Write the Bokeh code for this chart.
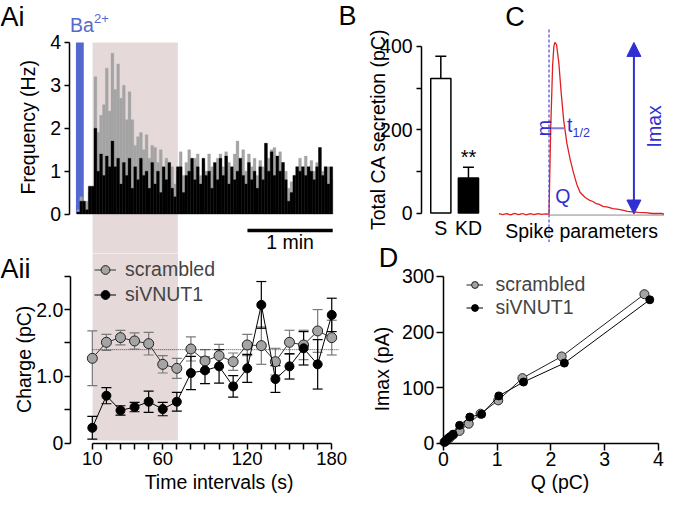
import numpy as np
from bokeh.plotting import figure
from bokeh.models import (Range1d, LinearAxis, FixedTicker, Legend, LegendItem,
                          Whisker, TeeHead, Arrow, NormalHead, ColumnDataSource)
from bokeh.core.properties import value
from bokeh.layouts import row, column
from bokeh.embed import file_html
from bokeh.resources import INLINE

# ---------------------------------------------------------------- data
# Panel Ai: spike-frequency histogram (2-s bins, Hz)
hist_bin_s = 2.0
freq_scrambled = [0.1, 0.4, 0.3, 0.3, 0.5, 0.6, 3.2, 1.9, 2.3, 2.55, 3.4, 2.4, 3.75, 2.9, 3.5, 2.7,
                  3.0, 2.2, 2.85, 2.2, 1.6, 1.8, 1.9, 1.5, 1.85, 1.3, 1.6, 1.55, 1.2, 1.5, 1.0, 1.3,
                  0.9, 1.1, 0.7, 1.0,
                  1.45, 0.9, 1.2, 1.5, 1.0, 1.3, 1.4, 0.9, 1.2, 1.0, 1.4, 1.1, 0.9, 1.3, 1.4, 1.1,
                  1.45, 1.2, 0.9, 1.4, 1.7, 1.2, 1.5, 1.0, 1.4, 1.1, 1.3, 0.9, 1.25, 1.1, 1.65, 1.3,
                  1.5, 1.55, 1.35, 1.45, 1.2, 1.0, 0.6, 0.75, 0.9, 1.1, 1.3, 1.1, 1.35, 1.1, 1.25,
                  1.0, 1.2, 1.55, 1.0, 1.1, 1.1, 0.8]
freq_sivnut1 = [0.05, 0.3, 0.3, 0.1, 0.65, 0.65, 2.0, 1.0, 1.4, 0.9, 1.35, 1.1, 1.7, 1.1, 1.3, 0.7,
                1.2, 0.9, 1.3, 0.6, 1.1, 0.8, 1.3, 0.9, 1.0, 0.6, 1.2, 0.7, 1.0, 0.5, 1.1, 0.8,
                1.2, 0.6, 0.4, 1.1,
                1.1, 0.5, 0.9, 1.0, 1.3, 0.8, 1.1, 0.7, 1.3, 0.9, 1.0, 0.6, 1.2, 0.8, 1.3, 0.9,
                1.35, 0.7, 1.1, 0.8, 1.0, 1.3, 0.9, 0.7, 1.2, 0.8, 1.0, 0.6, 1.1, 0.8, 1.65, 1.0,
                1.45, 0.9, 1.35, 1.0, 1.2, 0.8, 0.3, 0.5, 0.9, 1.1, 1.0, 1.1, 0.9, 1.1, 1.0, 0.8,
                1.1, 1.55, 0.9, 1.1, 0.7, 1.1]
ba_pulse_s = [-0.7, 4.8]
stim_window_s = [11.0, 71.0]
scale_bar_s = 60
freq_ticks = [0, 1, 2, 3, 4]

# Panel Aii: charge per spike over time intervals
interval_s = [10, 20, 30, 40, 50, 60, 70, 80, 90, 100, 110, 120, 130, 140, 150, 160, 170, 180]
charge_scr = [1.27, 1.51, 1.58, 1.53, 1.49, 1.18, 1.12, 1.41, 1.23, 1.31, 1.22, 1.47, 1.46, 1.22,
              1.51, 1.47, 1.68, 1.58]
charge_scr_sem = [0.41, 0.12, 0.11, 0.12, 0.17, 0.13, 0.15, 0.18, 0.17, 0.17, 0.13, 0.16, 0.28,
                  0.20, 0.18, 0.22, 0.32, 0.26]
charge_si = [0.23, 0.71, 0.49, 0.54, 0.62, 0.51, 0.62, 1.05, 1.09, 1.15, 0.85, 1.12, 2.07, 0.96,
             1.15, 1.42, 1.18, 1.92]
charge_si_sem = [0.17, 0.12, 0.07, 0.07, 0.16, 0.10, 0.14, 0.25, 0.20, 0.25, 0.16, 0.21, 0.35,
                 0.20, 0.19, 0.25, 0.37, 0.25]
charge_ref_level = 1.40
interval_labels = [10, 60, 120, 180]
charge_ticks = [0, 0.5, 1.0, 1.5, 2.0, 2.5]
charge_labels = {0: "0", 0.5: "", 1.0: "1.0", 1.5: "", 2.0: "2.0", 2.5: ""}
stim_window_intervals = [10.2, 70.8]

# Panel B: total catecholamine secretion
groups = ["S", "KD"]
total_ca = [323, 84]
total_ca_sem = [53, 26]
group_fill = ["white", "black"]
total_ticks = [0, 100, 200, 300, 400]

# Panel C: schematic amperometric spike (ms, % of Imax)
spike_t = [-6.4, -5.9, -5.4, -4.9, -4.4, -3.9, -3.4, -2.9, -2.4, -1.9, -1.4, -0.9, -0.4, 0.0, 0.21,
           0.46, 0.62, 0.75, 0.96, 1.25, 1.54, 1.88, 2.29, 2.71, 3.13, 3.54, 3.96, 4.58, 5.21, 5.6,
           6.04, 6.4, 6.88, 7.5, 8.13, 8.7, 9.38, 10.0, 10.63, 11.4, 12.29, 13.2, 14.38, 14.7]
spike_i = [0.3, -0.4, 0.2, -0.5, 0.4, -0.3, 0.3, -0.5, 0.2, -0.4, 0.3, -0.2, 0.1, 0.0, 48.6,
           86.4, 97.7, 100.0, 98.7, 88.3, 71.3, 54.3, 41.0, 31.6, 24.0, 17.4, 12.7, 9.8, 7.9, 7.3,
           6.0, 5.6, 4.5, 4.0, 3.2, 2.9, 2.3, 1.6, 1.3, 1.0, 0.8, 0.3, 0.4, -0.2]
half_width_t = [0.29, 1.96]
half_level = 50
imax_arrow_t = 10.83

# Panel D: Imax vs Q
q_scr = [0.02, 0.05, 0.08, 0.12, 0.18, 0.30, 0.47, 0.69, 1.02, 1.47, 2.20, 3.74]
imax_scr = [2, 4, 7, 10, 15, 22, 35, 53, 77, 117, 156, 268]
q_si = [0.02, 0.05, 0.09, 0.13, 0.18, 0.30, 0.49, 0.71, 1.03, 1.49, 2.25, 3.84]
imax_si = [2, 5, 9, 12, 16, 32, 47, 52, 85, 110, 144, 258]

# ---------------------------------------------------------------- style / geometry
FONT = "Liberation Sans"
FS = 19.5
LETTER = 27
GRAY = "#a4a4a4"
SHADE = "#e6d9d9"
BA_BLUE = "#5468cf"
BLUE = "#2f2fd2"
ROT = np.pi / 2
MID = 0.3465   # height of the em-box middle above the alphabetic baseline


def cx(r):
    return (r - 2.0) * 0.98


def cy(r):
    return r * 0.975


def lin(f0, f1, va, pa, vb, pb):
    k = (vb - va) / (pb - pa)
    return Range1d(va + (f0 - pa) * k, va + (f1 - pa) * k)


def px2val(rng, f0, f1, px):
    return rng.start + (px - f0) / (f1 - f0) * (rng.end - rng.start)


def make_fig(w, h, xr, yr):
    p = figure(width=w, height=h, x_range=xr, y_range=yr, x_axis_type=None, y_axis_type=None,
               output_backend="svg", toolbar_location=None, title=None,
               min_border_left=0, min_border_right=0, min_border_top=0, min_border_bottom=0)
    p.frame_align = False
    p.outline_line_color = None
    p.background_fill_color = "white"
    p.border_fill_color = "white"
    return p


def style_axis(ax, tick_out, standoff, size=FS):
    ax.axis_line_width = 1.5
    ax.axis_line_color = "black"
    ax.major_tick_line_width = 1.5
    ax.major_tick_line_color = "black"
    ax.major_tick_out = tick_out
    ax.major_tick_in = 0
    ax.minor_tick_line_color = None
    ax.major_label_text_font = FONT
    ax.major_label_text_font_size = f"{size}px"
    ax.major_label_text_color = "black"
    ax.major_label_standoff = standoff


def add_text(p, xl, yl, text, size=FS, color="black", align="left", angle=0.0):
    """xl, yl: pixel position of the text's baseline anchor inside the figure."""
    if angle == 0.0:
        yl = yl - MID * size
        baseline = "middle"
    else:
        baseline = "alphabetic"
    x = px2val(p.x_range, 0, p.width, xl)
    y = px2val(p.y_range, p.height, 0, yl)
    p.text(x=[x], y=[y], text=[text], angle=angle, text_font=value(FONT),
           text_font_size=value(f"{size}px"), text_color=color, text_align=align,
           text_baseline=baseline)


# ---------------------------------------------------------------- Ai
W, H = 360, 253
xr = lin(0, W, 0, cx(80), scale_bar_s, cx(167))
yr = lin(H, 0, 0, cy(219), 4, cy(43))
ai = make_fig(W, H, xr, yr)
ai.quad(left=[stim_window_s[0]], right=[stim_window_s[1]], bottom=[yr.start - 1], top=[4],
        fill_color=SHADE, line_color=None, level="underlay")
ai.quad(left=[ba_pulse_s[0]], right=[ba_pulse_s[1]], bottom=[0], top=[4],
        fill_color=BA_BLUE, line_color=None)
hist_t = [hist_bin_s * (i + 0.5) for i in range(len(freq_scrambled))]
ai.vbar(x=hist_t, width=hist_bin_s, top=freq_scrambled, bottom=0, fill_color=GRAY,
        line_color=GRAY, line_width=0.3)
ai.vbar(x=hist_t, width=hist_bin_s, top=freq_sivnut1, bottom=0, fill_color="black",
        line_color="black", line_width=0.3)
t_end = hist_bin_s * len(freq_scrambled)
bar_y = px2val(yr, H, 0, cy(236))
ai.line(x=[t_end - scale_bar_s, t_end], y=[bar_y, bar_y], line_color="black", line_width=3.5)
ax = LinearAxis(ticker=FixedTicker(ticks=freq_ticks), bounds=(0, 4),
                fixed_location=px2val(xr, 0, W, cx(72)))
style_axis(ax, 5, 3)
ai.add_layout(ax, "left")
add_text(ai, 0, cy(27), "Ai", size=LETTER)
add_text(ai, cx(347), cy(26), "B", size=LETTER)
add_text(ai, cx(73), cy(32), "Ba", color=BA_BLUE)
add_text(ai, cx(97.5), cy(23), "2+", size=13, color=BA_BLUE)
add_text(ai, cx(30.5), cy(130), "Frequency (Hz)", align="center", angle=ROT)
add_text(ai, cx(297.5), cy(255), "1 min", align="center")

# ---------------------------------------------------------------- Aii
W, H, OY = 360, 241, 253
xr = lin(0, W, 10, cx(95.7), 180, cx(340))
yr = lin(H, 0, 0, cy(454) - OY, 2.0, cy(317) - OY)
aii = make_fig(W, H, xr, yr)
aii.quad(left=[stim_window_intervals[0]], right=[stim_window_intervals[1]], bottom=[0.04],
         top=[yr.end + 1], fill_color=SHADE, line_color=None, level="underlay")
aii.line(x=[interval_s[0], interval_s[-1] + 5], y=[charge_ref_level, charge_ref_level],
         line_color="#333333", line_width=0.9, line_dash="1 1")
src_s = ColumnDataSource(dict(x=interval_s, y=charge_scr,
                              lo=[v - e for v, e in zip(charge_scr, charge_scr_sem)],
                              hi=[v + e for v, e in zip(charge_scr, charge_scr_sem)]))
src_k = ColumnDataSource(dict(x=interval_s, y=charge_si,
                              lo=[v - e for v, e in zip(charge_si, charge_si_sem)],
                              hi=[v + e for v, e in zip(charge_si, charge_si_sem)]))
for src, col in ((src_s, "#7a7a7a"), (src_k, "black")):
    aii.add_layout(Whisker(source=src, base="x", upper="hi", lower="lo", dimension="height",
                           line_color=col, line_width=1.2, level="underlay",
                           upper_head=TeeHead(size=10, line_color=col, line_width=1.2),
                           lower_head=TeeHead(size=10, line_color=col, line_width=1.2)))
l1 = aii.line("x", "y", source=src_s, line_color="#333333", line_width=1)
s1 = aii.scatter("x", "y", source=src_s, size=10, fill_color=GRAY, line_color="#222222",
                 line_width=1)
l2 = aii.line("x", "y", source=src_k, line_color="black", line_width=1)
s2 = aii.scatter("x", "y", source=src_k, size=9, fill_color="black", line_color="black")
ax = LinearAxis(ticker=FixedTicker(ticks=charge_ticks), bounds=(0, 2.5),
                major_label_overrides=charge_labels,
                fixed_location=px2val(xr, 0, W, cx(73.3)))
style_axis(ax, 6, 1)
aii.add_layout(ax, "left")
ax = LinearAxis(ticker=FixedTicker(ticks=interval_s), bounds=(10, 180), fixed_location=0,
                major_label_overrides={t: (str(t) if t in interval_labels else "")
                                       for t in interval_s})
style_axis(ax, 6, 3, size=18.5)
aii.add_layout(ax, "below")
item_h = 25
leg = Legend(items=[LegendItem(label="scrambled", renderers=[l1, s1]),
                    LegendItem(label="siVNUT1", renderers=[l2, s2])],
             location=(cx(98), H - (cy(276) - OY + 1.5 * item_h)), orientation="vertical",
             padding=0, spacing=0, margin=0, glyph_width=22, glyph_height=item_h,
             label_height=item_h, label_standoff=9, border_line_color=None,
             background_fill_alpha=0, label_text_font=FONT, label_text_font_size=f"{FS}px")
aii.add_layout(leg)
add_text(aii, 0, 24.5, "Aii", size=LETTER)
add_text(aii, cx(25.5), cy(368) - OY, "Charge (pC)", align="center", angle=ROT)
add_text(aii, cx(225), cy(501) - OY, "Time intervals (s)", align="center")

# ---------------------------------------------------------------- B
W, H, OX = 138, 242, 360
xr = lin(0, W, 1, cx(451.3) - OX, 2, cx(479.5) - OX)
yr = lin(H, 0, 0, cy(218), 400, cy(47))
b = make_fig(W, H, xr, yr)
bx = [i + 1 for i in range(len(groups))]
srcb = ColumnDataSource(dict(x=bx, top=total_ca, fill=group_fill,
                             hi=[v + e for v, e in zip(total_ca, total_ca_sem)]))
b.add_layout(Whisker(source=srcb, base="x", upper="hi", lower="top", dimension="height",
                     line_color="black", line_width=1.5, lower_head=None,
                     upper_head=TeeHead(size=11, line_color="black", line_width=1.5)))
b.vbar(x="x", top="top", bottom=0, width=0.73, source=srcb,
       fill_color="fill", line_color="black", line_width=1.5)
ax = LinearAxis(ticker=FixedTicker(ticks=total_ticks), bounds=(0, 400),
                major_label_overrides={100: "", 300: ""},
                fixed_location=px2val(xr, 0, W, cx(431.7) - OX))
style_axis(ax, 5, 4)
b.add_layout(ax, "left")
ax = LinearAxis(ticker=FixedTicker(ticks=bx), fixed_location=px2val(yr, H, 0, cy(221)),
                major_label_overrides={x: g for x, g in zip(bx, groups)})
style_axis(ax, 0, 1)
ax.axis_line_color = None
ax.major_tick_line_color = None
b.add_layout(ax, "below")
add_text(b, cx(387) - OX, cy(132), "Total CA secretion (pC)", align="center", angle=ROT)
add_text(b, cx(479.5) - OX, cy(168), "**", size=20, align="center")

# ---------------------------------------------------------------- C
W, H, OX = 166, 242, 498
xr = lin(0, W, 0, cx(561.7) - OX, 10, cx(641.7) - OX)
yr = lin(H, 0, 0, cy(219), 100, cy(43))
c = make_fig(W, H, xr, yr)
c.line(x=[0, spike_t[-1]], y=[-0.6, -0.6], line_color="#8a8a8a", line_width=1)
c.line(x=spike_t, y=spike_i, line_color="#e02020", line_width=1.3)
onset = spike_t[spike_i.index(0.0)]
c.line(x=[onset, onset], y=[yr.start, px2val(yr, H, 0, cy(28))], line_color="#4848d8",
       line_width=1.2, line_dash="3 2")
c.line(x=half_width_t, y=[half_level, half_level], line_color="#7d7de0", line_width=2)
c.add_layout(Arrow(x_start=imax_arrow_t, y_start=0, x_end=imax_arrow_t, y_end=max(spike_i),
                   line_color=BLUE, line_width=2,
                   start=NormalHead(size=14, fill_color=BLUE, line_color=BLUE),
                   end=NormalHead(size=14, fill_color=BLUE, line_color=BLUE)))
add_text(c, cx(517) - OX, cy(27), "C", size=LETTER)
add_text(c, cx(557) - OX, cy(131), "m", color=BLUE, align="center", angle=ROT)
add_text(c, cx(580) - OX, cy(135), "t", color=BLUE)
add_text(c, cx(585.7) - OX, cy(140), "1/2", size=12.5, color=BLUE)
add_text(c, cx(568) - OX, cy(207), "Q", color=BLUE)
add_text(c, cx(669) - OX, cy(129), "Imax", color=BLUE, align="center", angle=ROT)
add_text(c, cx(595) - OX, cy(243.5), "Spike parameters", align="center")

# ---------------------------------------------------------------- D
W, H, OX, OY = 304, 252, 360, 242
xr = lin(0, W, 0, cx(454) - OX, 4, cx(673.3) - OX)
yr = lin(H, 0, 0, cy(454) - OY, 300, cy(283) - OY)
d = make_fig(W, H, xr, yr)
dl1 = d.line(q_scr, imax_scr, line_color="#222222", line_width=1)
ds1 = d.scatter(q_scr, imax_scr, size=9, fill_color=GRAY, line_color="#222222", line_width=1)
dl2 = d.line(q_si, imax_si, line_color="black", line_width=1)
ds2 = d.scatter(q_si, imax_si, size=8, fill_color="black", line_color="black")
ax = LinearAxis(ticker=FixedTicker(ticks=[0, 100, 200, 300]), bounds=(0, 300), fixed_location=0)
style_axis(ax, 7, 2)
d.add_layout(ax, "left")
ax = LinearAxis(ticker=FixedTicker(ticks=[0, 1, 2, 3, 4]), bounds=(0, 4), fixed_location=0)
style_axis(ax, 7, 2)
d.add_layout(ax, "below")
item_h = 23
leg = Legend(items=[LegendItem(label="scrambled", renderers=[dl1, ds1]),
                    LegendItem(label="siVNUT1", renderers=[dl2, ds2])],
             location=(cx(478) - OX, H - (cy(291.7) - OY + 1.5 * item_h)),
             orientation="vertical", padding=0, spacing=0, margin=0, glyph_width=17,
             glyph_height=item_h, label_height=item_h, label_standoff=12,
             border_line_color=None, background_fill_alpha=0, label_text_font=FONT,
             label_text_font_size=f"{FS}px")
d.add_layout(leg)
add_text(d, cx(388) - OX, 24.5, "D", size=LETTER)
add_text(d, cx(391) - OX, cy(378) - OY, "Imax (pA)", align="center", angle=ROT)
add_text(d, cx(573) - OX, cy(501) - OY, "Q (pC)", align="center")

layout = row(column(ai, aii), column(row(b, c), d))
open("out.html", "w").write(file_html(layout, INLINE, title="figure"))
